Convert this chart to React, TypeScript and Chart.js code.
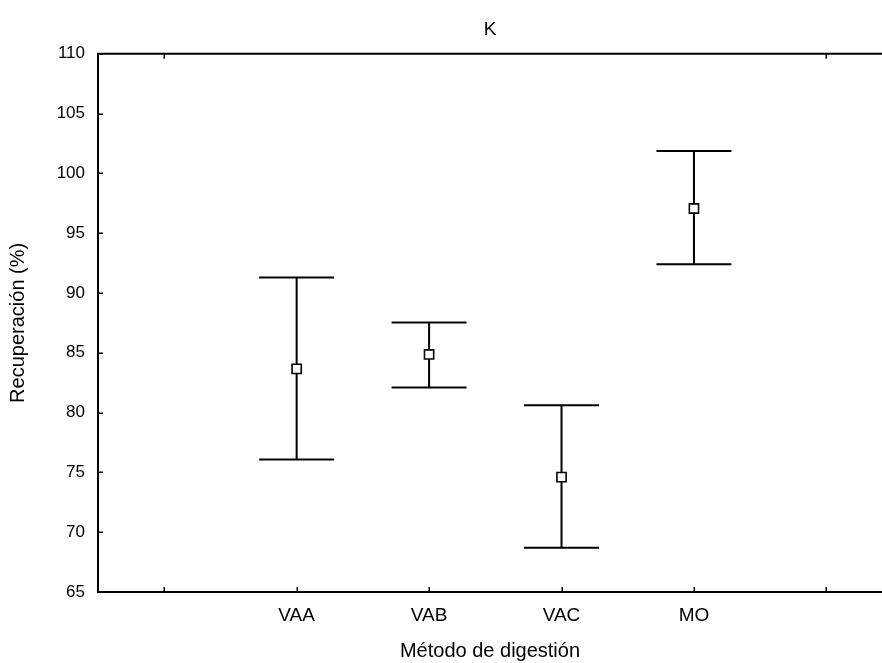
import React, { useEffect, useRef } from "react";
import { Chart, registerables } from "chart.js";

Chart.register(...registerables);

// Digestion methods and recovery statistics (%)
const categories = ["VAA", "VAB", "VAC", "MO"];
const means = [83.65, 84.86, 74.6, 97.06];
const upper = [91.3, 87.53, 80.62, 101.86];
const lower = [76.08, 82.1, 68.7, 92.39];

// x tick slots: an empty slot on each side of the four methods
const xTickLabels = ["", ...categories, ""];
const yTicks = [65, 70, 75, 80, 85, 90, 95, 100, 105, 110];

const FONT = '"Liberation Sans", Arial, Helvetica, sans-serif';

const errorBarPlugin = {
  id: "errorBars",
  beforeDatasetsDraw(chart: any) {
    const { ctx, scales } = chart;
    const xs = scales.x;
    const ys = scales.y;
    const capHalf = 37.5;
    ctx.save();
    ctx.strokeStyle = "#000";
    ctx.lineWidth = 2;
    categories.forEach((_, i) => {
      const x = xs.getPixelForValue(i + 1);
      const yt = ys.getPixelForValue(upper[i]);
      const yb = ys.getPixelForValue(lower[i]);
      ctx.beginPath();
      ctx.moveTo(x, yt);
      ctx.lineTo(x, yb);
      ctx.moveTo(x - capHalf, yt);
      ctx.lineTo(x + capHalf, yt);
      ctx.moveTo(x - capHalf, yb);
      ctx.lineTo(x + capHalf, yb);
      ctx.stroke();
    });
    ctx.restore();
  },
};

const frameTicksPlugin = {
  id: "frameTicks",
  afterDraw(chart: any) {
    const { ctx, chartArea, scales } = chart;
    const xs = scales.x;
    const ys = scales.y;
    const len = 5;
    ctx.save();
    ctx.strokeStyle = "#000";
    // top frame line
    ctx.lineWidth = 2;
    ctx.beginPath();
    ctx.moveTo(chartArea.left - 1, chartArea.top);
    ctx.lineTo(chartArea.right, chartArea.top);
    ctx.stroke();
    ctx.lineWidth = 1.5;
    ctx.beginPath();
    // inward ticks on the bottom axis
    xTickLabels.forEach((_, i) => {
      const x = Math.round(xs.getPixelForValue(i)) + 0.25;
      ctx.moveTo(x, chartArea.bottom);
      ctx.lineTo(x, chartArea.bottom - len);
    });
    // inward ticks on the top edge, at the outer slots only
    [0, xTickLabels.length - 1].forEach((i) => {
      const x = Math.round(xs.getPixelForValue(i)) + 0.25;
      ctx.moveTo(x, chartArea.top);
      ctx.lineTo(x, chartArea.top + len);
    });
    // inward ticks on the left axis
    yTicks.forEach((v) => {
      const y = Math.round(ys.getPixelForValue(v)) + 0.25;
      ctx.moveTo(chartArea.left, y);
      ctx.lineTo(chartArea.left + len, y);
    });
    ctx.stroke();
    ctx.restore();
  },
};

export default function App() {
  const canvasRef = useRef<HTMLCanvasElement | null>(null);

  useEffect(() => {
    if (!canvasRef.current) return;
    const chart = new Chart(canvasRef.current, {
      type: "scatter",
      data: {
        datasets: [
          {
            label: "Recuperación",
            data: means.map((m, i) => ({ x: i + 1, y: m })),
            pointStyle: "rect",
            pointRadius: 6.5,
            pointHoverRadius: 6.5,
            pointBackgroundColor: "#fff",
            pointBorderColor: "#000",
            pointBorderWidth: 1.6,
          },
        ],
      },
      options: {
        animation: false,
        responsive: false,
        maintainAspectRatio: false,
        events: [],
        layout: { autoPadding: false, padding: { left: 0, right: 0, top: 0, bottom: 0 } },
        plugins: {
          legend: { display: false },
          tooltip: { enabled: false },
          title: {
            display: true,
            fullSize: false,
            text: "K",
            color: "#000",
            font: { family: FONT, size: 19, weight: "normal" },
            padding: { top: 18.6, bottom: 12.3 },
          },
        },
        scales: {
          x: {
            type: "linear",
            min: -0.5,
            max: 5.42,
            afterFit: (s: any) => {
              s.height = 71;
              s.paddingLeft = 0;
              s.paddingRight = 0;
            },
            afterBuildTicks: (s: any) => {
              s.ticks = xTickLabels.map((_, i) => ({ value: i }));
            },
            grid: { display: true, drawOnChartArea: false, drawTicks: false },
            border: { display: true, color: "#000", width: 2 },
            ticks: {
              color: "#000",
              padding: 12,
              autoSkip: false,
              maxRotation: 0,
              font: { family: FONT, size: 19 },
              callback: (v: any) => xTickLabels[v as number] ?? "",
            },
            title: {
              display: true,
              text: "Método de digestión",
              color: "#000",
              font: { family: FONT, size: 20 },
              padding: { top: 0, bottom: 0 },
            },
          },
          y: {
            type: "linear",
            min: 65,
            max: 110,
            afterFit: (s: any) => {
              s.width = 98;
              s.paddingTop = 0;
              s.paddingBottom = 0;
            },
            afterBuildTicks: (s: any) => {
              s.ticks = yTicks.map((v) => ({ value: v }));
            },
            grid: { display: true, drawOnChartArea: false, drawTicks: false },
            border: { display: true, color: "#000", width: 2 },
            ticks: {
              color: "#000",
              padding: 13,
              font: { family: FONT, size: 17 },
            },
            title: {
              display: true,
              text: "Recuperación (%)",
              color: "#000",
              font: { family: FONT, size: 20 },
              padding: { top: 6, bottom: 0 },
            },
          },
        },
      },
      plugins: [errorBarPlugin, frameTicksPlugin],
    });
    return () => chart.destroy();
  }, []);

  return (
    <div
      style={{
        position: "fixed",
        left: 0,
        top: 0,
        width: 882,
        height: 663,
        overflow: "hidden",
        background: "#fff",
      }}
    >
      <canvas ref={canvasRef} width={882} height={663} style={{ display: "block" }} />
    </div>
  );
}
